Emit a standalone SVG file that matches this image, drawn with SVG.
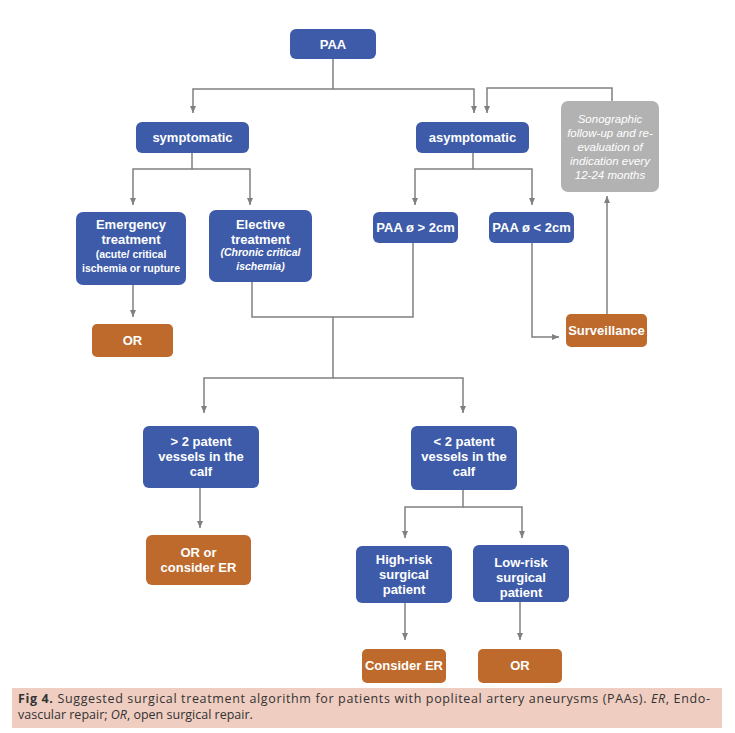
<svg xmlns="http://www.w3.org/2000/svg" width="735" height="733" viewBox="0 0 735 733">
<style>
.b{fill:#3d5ba8}
.o{fill:#bd6a2c}
.g{fill:#b2b2b2}
.t{font-family:"Liberation Sans",Arial,sans-serif;font-weight:bold;fill:#fff;text-anchor:middle;font-size:13px}
.s{font-size:10.5px}
.i{font-family:"Liberation Sans",Arial,sans-serif;font-style:italic;fill:#fff;text-anchor:middle;font-size:11.5px}
.c{fill:none;stroke:#808080;stroke-width:1.5}
.cap{font-family:"Open Sans","Noto Sans",sans-serif;font-size:12.5px;fill:#333}
</style>
<defs>
<marker id="a" markerUnits="userSpaceOnUse" markerWidth="8" markerHeight="8" refX="7" refY="4" orient="auto">
<path d="M0,1 L7,4 L0,7 Z" fill="#808080"/>
</marker>
</defs>
<rect width="735" height="733" fill="#fff"/>
<g id="connectors" class="c">
<path d="M333,59 V89 H193 V113" marker-end="url(#a)"/>
<path d="M333,89 H474 V113" marker-end="url(#a)"/>
<path d="M612,101 V88 H487 V113" marker-end="url(#a)"/>
<path d="M192,153 V169 H133 V205" marker-end="url(#a)"/>
<path d="M192,169 H250 V205" marker-end="url(#a)"/>
<path d="M473,153 V169 H415 V205" marker-end="url(#a)"/>
<path d="M473,169 H532 V205" marker-end="url(#a)"/>
<path d="M133,285 V317" marker-end="url(#a)"/>
<path d="M252,282 V317 H413 V243"/>
<path d="M333,317 V378 H204 V413" marker-end="url(#a)"/>
<path d="M333,378 H463 V413" marker-end="url(#a)"/>
<path d="M532,243 V337 H559" marker-end="url(#a)"/>
<path d="M607,314 V196" marker-end="url(#a)"/>
<path d="M200,488 V528" marker-end="url(#a)"/>
<path d="M463,490 V507 H405 V538" marker-end="url(#a)"/>
<path d="M463,507 H522 V538" marker-end="url(#a)"/>
<path d="M405,603 V640" marker-end="url(#a)"/>
<path d="M520,602 V640" marker-end="url(#a)"/>
</g>
<g id="paa"><rect class="b" x="290" y="29" width="86" height="30" rx="6"/><text class="t" x="333" y="49">PAA</text></g>
<g id="symptomatic"><rect class="b" x="136" y="122" width="113" height="31" rx="6"/><text class="t" x="192.5" y="142">symptomatic</text></g>
<g id="asymptomatic"><rect class="b" x="416" y="122" width="113" height="31" rx="6"/><text class="t" x="472.5" y="142">asymptomatic</text></g>
<g id="sonographic"><rect class="g" x="561" y="101" width="98" height="91" rx="7"/>
<text class="i" x="610" y="123">Sonographic</text><text class="i" x="610" y="137">follow-up and re-</text><text class="i" x="610" y="151">evaluation of</text><text class="i" x="610" y="165">indication every</text><text class="i" x="610" y="179">12-24 months</text></g>
<g id="emergency"><rect class="b" x="76" y="212" width="110" height="73" rx="7"/>
<text class="t" x="131" y="229">Emergency</text><text class="t" x="131" y="244">treatment</text><text class="t s" x="131" y="258">(acute/ critical</text><text class="t s" x="131" y="272">ischemia or rupture</text></g>
<g id="elective"><rect class="b" x="209" y="210" width="103" height="72" rx="7"/>
<text class="t" x="260.5" y="229">Elective</text><text class="t" x="260.5" y="244">treatment</text><text class="t s" x="260.5" y="256" font-style="italic">(Chronic critical</text><text class="t s" x="260.5" y="270" font-style="italic">ischemia)</text></g>
<g id="paa-gt"><rect class="b" x="373" y="212" width="85" height="31" rx="6"/><text class="t" x="415.5" y="232">PAA ø &gt; 2cm</text></g>
<g id="paa-lt"><rect class="b" x="489" y="212" width="85" height="31" rx="6"/><text class="t" x="531.5" y="232">PAA ø &lt; 2cm</text></g>
<g id="or1"><rect class="o" x="92" y="324" width="81" height="33" rx="5"/><text class="t" x="132.5" y="345">OR</text></g>
<g id="surveillance"><rect class="o" x="566" y="314" width="81" height="33" rx="5"/><text class="t" x="606.5" y="335">Surveillance</text></g>
<g id="gt2"><rect class="b" x="143" y="426" width="116" height="62" rx="6"/>
<text class="t" x="201" y="446">&gt; 2 patent</text><text class="t" x="201" y="461">vessels in the</text><text class="t" x="201" y="476">calf</text></g>
<g id="lt2"><rect class="b" x="411" y="426" width="106" height="64" rx="6"/>
<text class="t" x="464" y="446">&lt; 2 patent</text><text class="t" x="464" y="461">vessels in the</text><text class="t" x="464" y="476">calf</text></g>
<g id="or-er"><rect class="o" x="146" y="535" width="105" height="50" rx="6"/>
<text class="t" x="198.5" y="557">OR or</text><text class="t" x="198.5" y="572">consider ER</text></g>
<g id="high"><rect class="b" x="356" y="546" width="96" height="57" rx="6"/>
<text class="t" x="404" y="564">High-risk</text><text class="t" x="404" y="579">surgical</text><text class="t" x="404" y="594">patient</text></g>
<g id="low"><rect class="b" x="473" y="545" width="96" height="57" rx="6"/>
<text class="t" x="521" y="567">Low-risk</text><text class="t" x="521" y="582">surgical</text><text class="t" x="521" y="597">patient</text></g>
<g id="consider"><rect class="o" x="362" y="649" width="84" height="34" rx="5"/><text class="t" x="404" y="670">Consider ER</text></g>
<g id="or2"><rect class="o" x="478" y="649" width="84" height="34" rx="5"/><text class="t" x="520" y="670">OR</text></g>
<g id="caption"><rect x="12" y="688" width="710" height="40" fill="#efcdc1"/>
<text class="cap" x="18" y="703" textLength="692" lengthAdjust="spacing"><tspan font-weight="bold">Fig 4.</tspan> Suggested surgical treatment algorithm for patients with popliteal artery aneurysms (PAAs). <tspan font-style="italic">ER</tspan>, Endo-</text>
<text class="cap" x="18" y="719">vascular repair; <tspan font-style="italic">OR</tspan>, open surgical repair.</text></g>
</svg>
